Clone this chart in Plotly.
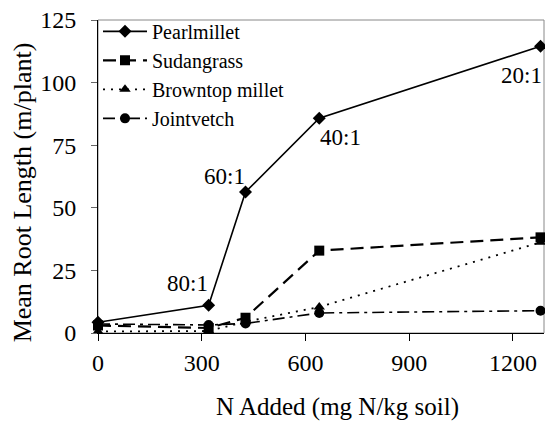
import plotly.graph_objects as go

n_added = [0, 320, 426.67, 640, 1280]
pearlmillet = [4.3, 11.1, 56.3, 85.8, 114.5]
sudangrass = [3.0, 2.0, 6.1, 32.9, 38.2]
browntop = [0.6, 0.8, 4.5, 10.4, 36.2]
jointvetch = [3.6, 3.2, 3.8, 8.0, 8.9]

ratio_labels = ["80:1", "60:1", "40:1", "20:1"]
ratio_x = [260, 365, 700, 1226]
ratio_y = [19.8, 62.7, 77.9, 103]

FONT = "Liberation Serif, Times New Roman, serif"

fig = go.Figure()
series = [
    ("Pearlmillet", pearlmillet, "solid", "diamond", 1.6),
    ("Sudangrass", sudangrass, "13px,7px", "square", 2.2),
    ("Browntop millet", browntop, "2px,6px", "triangle-up", 1.8),
    ("Jointvetch", jointvetch, "12px,5px,3px,5px", "circle", 1.6),
]
for name, vals, dash, sym, w in series:
    fig.add_trace(go.Scatter(
        x=n_added, y=vals, name=name, mode="lines+markers",
        line=dict(color="black", width=w, dash=dash),
        marker=dict(symbol=sym, size=10, color="black"),
        cliponaxis=False,
    ))

for t, xx, yy in zip(ratio_labels, ratio_x, ratio_y):
    fig.add_annotation(x=xx, y=yy, text=t, showarrow=False,
                       font=dict(family=FONT, size=23, color="black"))

# axis titles placed as annotations
fig.add_annotation(xref="paper", yref="paper", x=-0.170, y=0.45,
                   text="Mean Root Length (m/plant)", textangle=-90, showarrow=False,
                   xanchor="center", yanchor="middle",
                   font=dict(family=FONT, size=26, color="black"))
fig.add_annotation(xref="paper", yref="paper", x=0.538, y=-0.236,
                   text="N Added (mg N/kg soil)", showarrow=False,
                   xanchor="center", yanchor="middle",
                   font=dict(family=FONT, size=25, color="black"))

fig.add_shape(type="rect", xref="paper", yref="paper", x0=0, y0=0, x1=1, y1=1,
              line=dict(color="#888888", width=1), layer="below")

fig.update_layout(
    width=545, height=422,
    margin=dict(l=98, r=1, t=20, b=89),
    paper_bgcolor="white", plot_bgcolor="white",
    font=dict(family=FONT, size=20, color="black"),
    showlegend=True,
    legend=dict(x=0.0, y=1.026, xanchor="left", yanchor="top",
                bgcolor="rgba(0,0,0,0)", font=dict(family=FONT, size=20),
                tracegroupgap=0, itemwidth=44),
    xaxis=dict(range=[0, 1290], tickvals=[0, 300, 600, 900, 1200],
               showgrid=False, zeroline=False, showline=True, linecolor="black",
               linewidth=1, ticks="outside", ticklen=7, tickcolor="black",
               ticklabelstandoff=1,
               tickfont=dict(family=FONT, size=24)),
    yaxis=dict(range=[0, 125], tickvals=[0, 25, 50, 75, 100, 125],
               showgrid=False, zeroline=False, showline=True, linecolor="black",
               linewidth=1, ticks="outside", ticklen=6, tickcolor="#666666",
               ticklabelstandoff=10,
               tickfont=dict(family=FONT, size=24)),
)

fig.write_html("out.html", post_script="document.body.style.margin='0';",
               config={"displayModeBar": False})
